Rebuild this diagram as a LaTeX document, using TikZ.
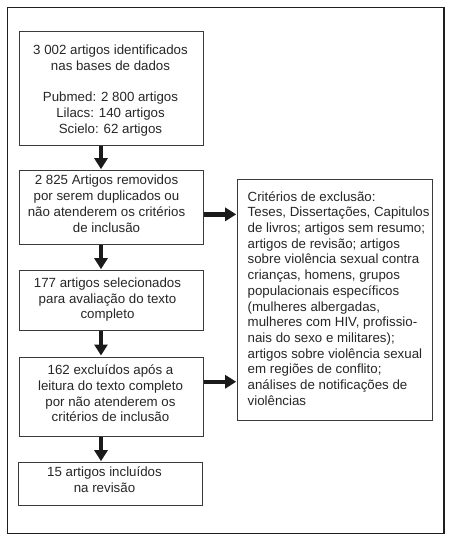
\documentclass[tikz,border=0pt]{standalone}
\usepackage{fontspec}
\setmainfont{Liberation Sans}
\usetikzlibrary{arrows.meta}
\definecolor{framec}{HTML}{1E1E1E}
\definecolor{boxc}{HTML}{3A3A3A}
\definecolor{arrc}{HTML}{1A1A1A}
\tikzset{
  boxnode/.style={draw=boxc, line width=1pt, inner sep=0pt, fill=none},
  txt/.style={inner sep=0pt, font=\fontsize{13.3}{15.7}\selectfont, text=black!85,
    execute at begin node={\rule{0pt}{11pt}}, execute at end node={\rule[-3.5pt]{0pt}{3.5pt}}},
  ctxt/.style={txt, align=center},
  ltxt/.style={txt, align=left, anchor=west},
  thickarrow/.style={draw=arrc, line width=4.3pt, -{Triangle[length=11pt,width=13pt]}, shorten >=1pt}
}
\begin{document}
\begin{tikzpicture}[x=1pt,y=-1pt]
\useasboundingbox (0,0) rectangle (450,538);
% outer frame
\node[draw=framec, line width=1.3pt, minimum width=436.7pt, minimum height=526pt, inner sep=0pt] (frame) at (225.65,270.3) {};
% boxes
\node[boxnode, minimum width=184pt, minimum height=114pt] (b1) at (111,88.5) {};
\node[boxnode, minimum width=184pt, minimum height=73.3pt] (b2) at (111,207.35) {};
\node[boxnode, minimum width=184pt, minimum height=60pt] (b3) at (111,300.7) {};
\node[boxnode, minimum width=184pt, minimum height=79.5pt] (b4) at (111,396.75) {};
\node[boxnode, minimum width=183.5pt, minimum height=42.3pt] (b5) at (110.25,483.85) {};
\node[boxnode, minimum width=194.3pt, minimum height=241.4pt] (rb) at (334.85,300) {};
% texts
\node[ctxt] (t1) at (110.5,91) {3 002 artigos identificados\\nas bases de dados\\[15.7pt]Pubmed: 2 800 artigos\\Lilacs: 140 artigos\\Scielo: 62 artigos};
\node[ctxt] (t2) at (106.5,205.4) {2 825 Artigos removidos\\por serem duplicados ou\\não atenderem os critérios\\de inclusão};
\node[ctxt] (t3) at (107.5,300) {177 artigos selecionados\\para avaliação do texto\\completo};
\node[ctxt] (t4) at (110.5,395) {162 excluídos após a\\leitura do texto completo\\por não atenderem os\\critérios de inclusão};
\node[ctxt] (t5) at (104.5,481.2) {15 artigos incluídos\\na revisão};
\node[ltxt] (tr) at (247.5,300) {Critérios de exclusão:\\Teses, Dissertações, Capitulos\\de livros; artigos sem resumo;\\artigos de revisão; artigos\\sobre violência sexual contra\\crianças, homens, grupos\\populacionais específicos\\(mulheres albergadas,\\mulheres com HIV, profissio-\\nais do sexo e militares);\\artigos sobre violência sexual\\em regiões de conflito;\\análises de notificações de\\violências};
% arrows
\draw[thickarrow] ([xshift=-10pt]b1.south) -- ([xshift=-10pt]b2.north);
\draw[thickarrow] ([xshift=-10pt]b2.south) -- ([xshift=-10pt]b3.north);
\draw[thickarrow] ([xshift=-10pt]b3.south) -- ([xshift=-10pt]b4.north);
\draw[thickarrow] ([xshift=-10pt]b4.south) -- ([xshift=-9.25pt]b5.north);
\draw[thickarrow] ([yshift=-7pt]b2.east) -- ([yshift=-7pt]b2.east -| rb.west);
\draw[thickarrow] ([yshift=15pt]b4.east) -- ([yshift=15pt]b4.east -| rb.west);
\end{tikzpicture}
\end{document}
